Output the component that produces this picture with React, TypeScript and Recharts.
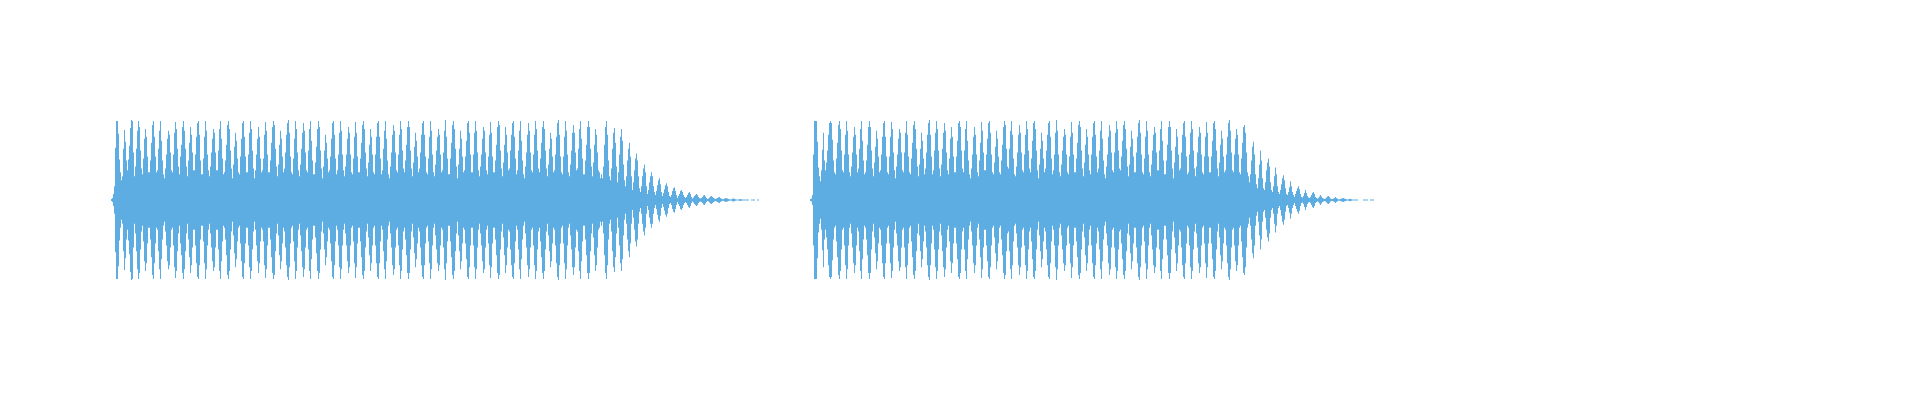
import React from "react";
import { BarChart, Bar, XAxis, YAxis } from "recharts";

// Peak amplitude per pixel column (0–80), mirrored around the centre line.

// first clip
const clip1Attack = [
  1, 2, 6, 14, 53, 80, 80, 67, 41, 28, 20, 24, 52, 71, 59, 40, 30, 41, 55, 73, 81, 80, 48,
];

const clip1Sustain = [
  24, 34, 52, 70, 80, 74, 50, 32, 26, 42, 62, 72, 64, 44, 28,
  28, 40, 58, 76, 80, 64, 44, 28, 30, 52, 70, 80, 60, 40, 26,
  22, 32, 46, 62, 70, 66, 48, 30, 28, 46, 68, 79, 72, 52, 34,
  26, 44, 56, 74, 80, 70, 52, 34, 24, 40, 58, 74, 66, 48, 30,
  30, 46, 64, 78, 80, 66, 40, 26, 26, 42, 64, 80, 70, 46, 30,
  24, 34, 48, 62, 72, 68, 48, 30, 30, 50, 72, 80, 62, 42, 26,
  28, 40, 56, 76, 80, 72, 50, 32, 22, 36, 54, 68, 60, 42, 28,
  26, 44, 62, 78, 80, 64, 44, 28, 28, 46, 68, 80, 72, 50, 32,
  22, 30, 46, 62, 74, 64, 42, 28, 30, 42, 66, 79, 70, 46, 28,
  28, 40, 58, 74, 80, 76, 52, 34, 24, 36, 56, 70, 62, 44, 28,
  32, 48, 66, 78, 81, 68, 44, 28, 26, 42, 62, 80, 72, 48, 30,
  24, 36, 52, 68, 78, 70, 48, 30, 28, 50, 72, 80, 60, 40, 26,
  26, 38, 54, 72, 80, 74, 50, 32, 22, 34, 50, 66, 58, 42, 28,
  30, 44, 62, 78, 80, 66, 42, 26, 30, 46, 68, 80, 70, 46, 30,
  24, 34, 46, 62, 74, 68, 46, 28, 26, 42, 64, 79, 68, 44, 28,
  28, 42, 58, 76, 80, 72, 48, 32, 24, 38, 56, 72, 64, 46, 28,
  26, 46, 64, 78, 80, 64, 42, 26, 30, 52, 70, 80, 62, 40, 26,
  22, 34, 48, 66, 76, 70, 48, 30, 28, 46, 66, 80, 72, 50, 32,
  28, 40, 56, 74, 80, 74, 50, 32, 24, 38, 54, 68, 60, 44, 28,
  32, 48, 66, 78, 80, 66, 44, 28, 26, 42, 64, 80, 70, 46, 28,
  24, 36, 50, 64, 72, 66, 46, 28, 30, 48, 70, 81, 64, 42, 26,
  26, 42, 58, 76, 80, 72, 52, 34, 22, 36, 52, 70, 62, 44, 28,
  30, 44, 60, 78, 80, 68, 46, 28, 28, 46, 68, 80, 70, 48, 30,
  24, 34, 46, 62, 74, 70, 48, 30, 26, 44, 66, 79, 68, 44, 28,
  28, 40, 56, 74, 80, 76, 50, 32, 24, 38, 56, 74, 66, 48, 30,
  32, 50, 66, 78, 80, 64, 42, 26, 30, 50, 70, 80, 60, 40, 26,
  22, 34, 48, 66, 78, 70, 48, 30, 28, 46, 66, 80, 72, 50, 32,
  28, 42, 58, 74, 80, 72, 50, 32, 24, 36, 52, 68, 62, 44, 28,
  30, 46, 64, 78, 81, 66, 44, 28, 26, 44, 64, 80, 70, 46, 28,
  24, 36, 50, 68, 76, 68, 48, 30, 32, 52, 72, 80, 62, 42, 26,
  26, 40, 56, 74, 80, 74, 52, 34, 24, 38, 56, 72, 66, 48, 30,
  28, 22, 26,
];

const clip1Release = [
  22, 34, 56, 74, 80, 66, 40, 24,
  20, 32, 52, 68, 73, 58, 34,
  18, 28, 46, 64, 72, 60, 36, 20,
  14, 24, 40, 52, 58, 44, 24,
  10, 18, 30, 42, 47, 40, 24, 12,
  8, 14, 24, 32, 36, 28, 14,
  6, 10, 18, 24, 28, 24, 14, 8,
  5, 9, 15, 20, 22, 16, 8,
  4, 7, 11, 15, 17, 14, 8, 4,
  3, 5, 9, 12, 13, 9, 5,
  2, 4, 6, 9, 10, 8, 5, 3,
  2, 3, 5, 7, 8, 6, 3,
  1.5, 2.5, 4, 5, 6, 5, 3, 2,
  1.5, 2, 3, 4.5, 5, 3.5, 2,
  1, 1.5, 2.5, 3.5, 4, 3, 2, 1.5,
  1, 1.5, 2, 2.8, 3, 2, 1.2,
  0.8, 1, 1.5, 1.8, 2, 1.6, 1, 0.8,
  0.6, 0.8, 1.2, 1.5, 1.2, 0.8, 0.6,
  0.5, 0.6, 0.8, 1, 0.8, 0.6, 0.5, 0.5,
  0.5, 0.5, 0.5, 0.5, 0, 0, 0.5, 0.5, 0.5, 0.5, 0, 0, 0.5, 0.5,
];

// silent columns between the clips
const gapColumns = 51;

// second clip
const clip2Attack = [
  1, 1.5, 5, 46, 80, 80, 80, 59, 33, 24, 19, 30, 51, 68, 40, 30, 38, 50, 66, 78, 80, 78, 61, 40, 28,
];

const clip2Sustain = [
  26, 42, 58, 76, 80, 72, 50, 30, 28, 46, 66, 80, 70, 46, 28,
  24, 34, 48, 64, 74, 66, 46, 28, 32, 52, 72, 80, 60, 40, 26,
  28, 40, 56, 74, 80, 74, 50, 32, 24, 38, 54, 70, 62, 44, 28,
  30, 46, 64, 78, 80, 64, 44, 28, 26, 44, 64, 79, 72, 48, 30,
  22, 34, 46, 62, 72, 68, 48, 30, 28, 48, 68, 80, 66, 44, 28,
  26, 42, 58, 76, 80, 72, 52, 34, 24, 36, 52, 68, 60, 42, 26,
  32, 48, 66, 78, 81, 66, 44, 26, 30, 50, 68, 80, 72, 50, 32,
  24, 36, 52, 68, 78, 70, 48, 30, 26, 42, 62, 74, 64, 44, 28,
  28, 44, 60, 78, 80, 74, 50, 32, 28, 50, 72, 80, 60, 40, 26,
  22, 32, 46, 64, 74, 66, 46, 28, 24, 40, 58, 79, 70, 48, 30,
  30, 46, 62, 78, 80, 68, 46, 28, 26, 38, 54, 70, 62, 44, 28,
  26, 40, 56, 74, 80, 76, 52, 34, 32, 52, 70, 80, 66, 42, 26,
  24, 34, 48, 66, 76, 68, 48, 30, 28, 46, 66, 80, 72, 50, 32,
  28, 42, 60, 78, 80, 72, 50, 30, 22, 36, 52, 68, 60, 42, 28,
  32, 50, 66, 78, 80, 64, 42, 26, 30, 46, 68, 81, 70, 46, 28,
  24, 36, 50, 64, 72, 66, 46, 28, 26, 44, 64, 79, 68, 46, 28,
  28, 42, 58, 76, 80, 74, 50, 32, 24, 38, 56, 72, 64, 46, 30,
  26, 46, 64, 78, 80, 66, 44, 28, 32, 50, 70, 80, 62, 40, 26,
  22, 34, 46, 64, 76, 70, 48, 30, 28, 48, 68, 80, 72, 50, 32,
  30, 44, 60, 76, 80, 72, 52, 34, 24, 36, 54, 70, 62, 44, 28,
  28, 48, 64, 78, 81, 68, 46, 28, 26, 42, 64, 80, 70, 46, 28,
  24, 36, 50, 66, 74, 68, 48, 30, 30, 50, 72, 80, 60, 40, 26,
  26, 40, 56, 74, 80, 74, 50, 32, 22, 38, 54, 72, 64, 46, 30,
  32, 48, 66, 78, 80, 64, 44, 26, 28, 46, 68, 80, 72, 50, 32,
  24, 34, 48, 64, 74, 68, 46, 28, 26, 44, 64, 79, 68, 44, 28,
  28, 44, 60, 78, 80, 72, 50, 32, 24, 38, 56, 70, 62, 44, 28,
  30, 46, 64, 78, 81, 70, 48, 30, 28, 46, 62, 72, 66, 46, 28,
  26, 42, 58, 74, 76, 68, 48, 28,
  24,
];

const clip2Release = [
  18, 26, 40, 54, 59, 46, 26, 16,
  12, 22, 36, 50, 40, 22, 12,
  10, 18, 30, 38, 42, 34, 18, 10,
  8, 14, 24, 33, 26, 14, 8,
  6, 10, 16, 22, 25, 20, 12, 6,
  5, 8, 13, 19, 14, 8, 5,
  3, 6, 9, 12, 14, 11, 6, 3,
  2.5, 4, 7, 10, 7, 4, 2.5,
  2, 3, 5, 7, 8, 6, 3, 2,
  1.5, 2, 3.5, 5, 3.5, 2, 1.5,
  1, 1.5, 2.5, 3.5, 4, 3, 1.5, 1,
  1, 1.5, 2, 3, 2, 1.2, 0.8,
  0.8, 1, 1.4, 1.8, 2, 1.4, 1, 0.8,
  0.6, 0.8, 1, 1.2, 0.8, 0.6, 0.5,
  0.5, 0.5, 0.5, 0.5, 0, 0, 0, 0, 0, 0.5, 0.5, 0.5, 0.5, 0.5, 0, 0, 0.5, 0.5, 0.5, 0.5,
];

const columns: number[] = [
  ...clip1Attack,
  ...clip1Sustain,
  ...clip1Release,
  ...new Array(gapColumns).fill(0),
  ...clip2Attack,
  ...clip2Sustain,
  ...clip2Release,
];

const data = columns.map((a, i) => ({
  i,
  range: a > 0 ? [-a, a] : null,
}));

const WIDTH = 1920;
const HEIGHT = 400;
const LEFT = 111;

export default function App() {
  return (
    <div style={{ position: "absolute", left: 0, top: 0, width: WIDTH, height: HEIGHT, background: "#fff" }}>
      <BarChart
        width={WIDTH}
        height={HEIGHT}
        data={data}
        barCategoryGap={0}
        barGap={0}
        margin={{ top: 120, bottom: 120, left: LEFT, right: WIDTH - LEFT - data.length }}
      >
        <XAxis dataKey="i" hide />
        <YAxis domain={[-80, 80]} hide />
        <Bar dataKey="range" fill="#5dade2" isAnimationActive={false} />
      </BarChart>
    </div>
  );
}
